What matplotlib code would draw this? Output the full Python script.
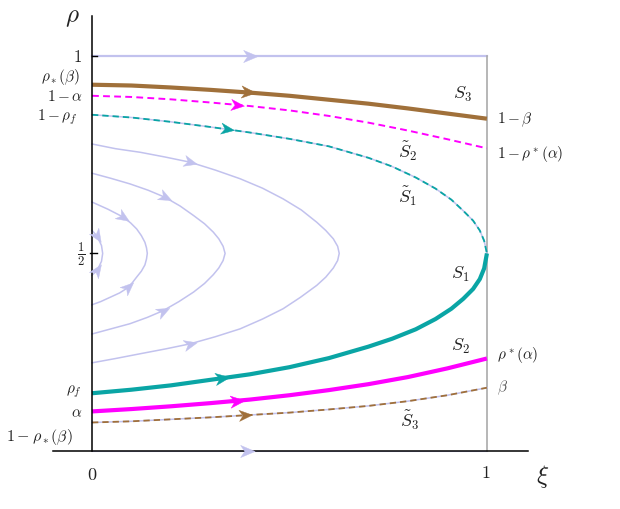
import numpy as np
import matplotlib
matplotlib.use('Agg')
import matplotlib.pyplot as plt
from matplotlib.path import Path
from matplotlib.markers import MarkerStyle
from matplotlib.transforms import Affine2D

plt.rcParams['mathtext.fontset'] = 'cm'

# curves (xi along the bottom, rho up the side)
line_xi = [0, 0.1, 0.2, 0.3, 0.4, 0.5, 0.6, 0.7, 0.8, 0.9, 1.0]
s3_rho = [0.927, 0.925, 0.920, 0.914, 0.907, 0.899, 0.889, 0.879, 0.867, 0.854, 0.841]
s2t_rho = [0.899, 0.896, 0.890, 0.882, 0.873, 0.862, 0.848, 0.831, 0.811, 0.789, 0.766]
s2_rho = [0.100, 0.106, 0.113, 0.121, 0.130, 0.141, 0.154, 0.169, 0.187, 0.209, 0.234]
s3t_rho = [0.072, 0.075, 0.080, 0.085, 0.091, 0.097, 0.105, 0.114, 0.126, 0.141, 0.160]

sep_xi = [0, 0.1, 0.2, 0.3, 0.4, 0.5, 0.6, 0.7, 0.76, 0.82, 0.87, 0.91, 0.94, 0.965, 0.982, 0.993, 1.0]
s1t_rho = [0.851, 0.844, 0.833, 0.820, 0.806, 0.790, 0.771, 0.742, 0.720, 0.692, 0.664,
           0.636, 0.608, 0.583, 0.558, 0.532, 0.5]
s1_rho = [0.146, 0.155, 0.166, 0.180, 0.194, 0.212, 0.235, 0.264, 0.284, 0.308, 0.334,
          0.360, 0.385, 0.410, 0.435, 0.462, 0.5]

# closed orbits around (0, 1/2): upper and lower branches
orb_a_up_xi = [0, 0.06, 0.122, 0.185, 0.248, 0.312, 0.375, 0.432, 0.484, 0.530, 0.569, 0.592, 0.611, 0.622, 0.626]
orb_a_up_rho = [0.777, 0.765, 0.756, 0.744, 0.731, 0.711, 0.689, 0.665, 0.638, 0.610, 0.579, 0.558, 0.537, 0.518, 0.5]
orb_a_lo_xi = [0.626, 0.622, 0.611, 0.592, 0.569, 0.528, 0.484, 0.432, 0.375, 0.312, 0.248, 0.185, 0.122, 0.06, 0]
orb_a_lo_rho = [0.5, 0.482, 0.463, 0.440, 0.419, 0.389, 0.360, 0.334, 0.309, 0.289, 0.271, 0.258, 0.246, 0.234, 0.223]

orb_b_up_xi = [0, 0.048, 0.096, 0.142, 0.185, 0.223, 0.257, 0.285, 0.307, 0.321, 0.332, 0.337]
orb_b_up_rho = [0.703, 0.690, 0.676, 0.660, 0.642, 0.620, 0.596, 0.575, 0.554, 0.537, 0.518, 0.5]
orb_b_lo_xi = [0.337, 0.332, 0.321, 0.307, 0.285, 0.257, 0.22, 0.18, 0.14, 0.096, 0.048, 0]
orb_b_lo_rho = [0.5, 0.482, 0.463, 0.446, 0.424, 0.402, 0.378, 0.355, 0.338, 0.322, 0.309, 0.296]

orb_c_up_xi = [0, 0.04, 0.079, 0.098, 0.113, 0.125, 0.134, 0.138, 0.14]
orb_c_up_rho = [0.63, 0.612, 0.592, 0.577, 0.562, 0.545, 0.528, 0.514, 0.5]
orb_c_lo_xi = [0.14, 0.138, 0.134, 0.125, 0.113, 0.103, 0.092, 0.07, 0.046, 0.022, 0]
orb_c_lo_rho = [0.5, 0.486, 0.471, 0.455, 0.44, 0.427, 0.414, 0.40, 0.389, 0.378, 0.37]

orb_d_up_xi = [0, 0.009, 0.016, 0.024, 0.027]
orb_d_up_rho = [0.558, 0.548, 0.537, 0.52, 0.5]
orb_d_lo_xi = [0.027, 0.024, 0.016, 0.008, 0]
orb_d_lo_rho = [0.5, 0.48, 0.463, 0.452, 0.445]

edge_xi = [0, 1.0]
top_rho = [1.0, 1.0]
bot_rho = [0.0, 0.0]

LAV = '#c2c2ee'
TEAL = '#0aa5a5'
MAG = '#ff00ff'
BROWN = '#a0703a'
TXT = '#222222'

arrow_path = Path([(1, 0), (-0.9, 0.8), (-0.35, 0), (-0.9, -0.8), (1, 0)],
                  [Path.MOVETO, Path.LINETO, Path.LINETO, Path.LINETO, Path.CLOSEPOLY])


def put_arrow(ax, xs, ys, at, color, size=9):
    xs = np.asarray(xs, float)
    ys = np.asarray(ys, float)
    o = np.argsort(xs)
    xs, ys = xs[o], ys[o]
    y = np.interp(at, xs, ys)
    d = 0.01
    dy = np.interp(at + d, xs, ys) - np.interp(at - d, xs, ys)
    ang = np.degrees(np.arctan2(dy, 2 * d))
    m = MarkerStyle(arrow_path, transform=Affine2D().rotate_deg(ang))
    ax.plot([at], [y], marker=m, ms=size, color=color, mec=color, mew=0.3,
            ls='none', zorder=8)


fig = plt.figure(figsize=(6.2, 5.1), dpi=100)
ax = fig.add_axes([0, 0, 1, 1])
ax.set_xlim(-0.233, 1.337)
ax.set_ylim(-0.147, 1.144)
ax.axis('off')

# closed orbits
orbits = [(orb_a_up_xi, orb_a_up_rho, orb_a_lo_xi, orb_a_lo_rho, 0.248, 0.248),
          (orb_b_up_xi, orb_b_up_rho, orb_b_lo_xi, orb_b_lo_rho, 0.185, 0.18),
          (orb_c_up_xi, orb_c_up_rho, orb_c_lo_xi, orb_c_lo_rho, 0.079, 0.092),
          (orb_d_up_xi, orb_d_up_rho, orb_d_lo_xi, orb_d_lo_rho, 0.012, 0.012)]
for ux, uy, lx, ly, au, al in orbits:
    ax.plot(ux + lx, uy + ly, color=LAV, lw=1.1, zorder=2)
    put_arrow(ax, ux, uy, au, LAV, 10)
    put_arrow(ax, lx, ly, al, LAV, 10)

# boundary lines
ax.plot(edge_xi, top_rho, color=LAV, lw=1.6, zorder=2)
put_arrow(ax, edge_xi, top_rho, 0.40, LAV, 11)
ax.plot(edge_xi, bot_rho, color=LAV, lw=0.8, zorder=2)
put_arrow(ax, edge_xi, bot_rho, 0.392, LAV, 11)
ax.plot([1, 1], [0, 1], color='#aaaaaa', lw=1.2, zorder=3)

# separatrices
ax.plot(sep_xi, s1t_rho, color=LAV, lw=1.1, zorder=3)
ax.plot(sep_xi, s1t_rho, color=TEAL, lw=1.3, ls=(0, (3.5, 2.2)), zorder=4)
put_arrow(ax, sep_xi, s1t_rho, 0.342, TEAL, 10)

ax.plot(sep_xi, s1_rho, color=TEAL, lw=3.0, zorder=5, solid_capstyle='butt')
put_arrow(ax, sep_xi, s1_rho, 0.329, TEAL, 11)

ax.plot(line_xi, s2t_rho, color=MAG, lw=1.4, ls=(0, (3.5, 2.2)), zorder=4)
put_arrow(ax, line_xi, s2t_rho, 0.367, MAG, 10)

ax.plot(line_xi, s2_rho, color=MAG, lw=3.0, zorder=5, solid_capstyle='butt')
put_arrow(ax, line_xi, s2_rho, 0.367, MAG, 11)

ax.plot(line_xi, s3_rho, color=BROWN, lw=3.0, zorder=5, solid_capstyle='butt')
put_arrow(ax, line_xi, s3_rho, 0.395, BROWN, 11)

ax.plot(line_xi, s3t_rho, color=LAV, lw=1.1, zorder=3)
ax.plot(line_xi, s3t_rho, color=BROWN, lw=1.3, ls=(0, (3.5, 2.2)), zorder=4)
put_arrow(ax, line_xi, s3t_rho, 0.387, BROWN, 10)

# axes
ax.plot([-0.1, 1.104], [0, 0], color='black', lw=1.1, zorder=7)
ax.plot([0, 0], [0, 1.1], color='black', lw=1.1, zorder=7)
ax.plot([0, 0.012], [1, 1], color='black', lw=1.0, zorder=7)
ax.plot([-0.006, 0.012], [0.5, 0.5], color='black', lw=1.0, zorder=7)

ax.text(-0.05, 1.10, r'$\rho$', fontsize=18, ha='center', va='center', color=TXT)
ax.text(1.142, -0.063, r'$\xi$', fontsize=18, ha='center', va='center', color=TXT)
ax.text(0, -0.058, r'$0$', fontsize=13, ha='center', va='center', color=TXT)
ax.text(0.997, -0.053, r'$1$', fontsize=13, ha='center', va='center', color=TXT)

# left side labels
ly = dict(ha='right', va='center', color=TXT)
ax.text(-0.025, 1.0, r'$1$', fontsize=12, **ly)
ax.text(-0.03, 0.949, r'$\rho_*(\beta)$', fontsize=11, **ly)
ax.text(-0.022, 0.899, r'$1-\alpha$', fontsize=11, **ly)
ax.text(-0.035, 0.848, r'$1-\rho_f$', fontsize=11, **ly)
ax.text(-0.016, 0.5, r'$\frac{1}{2}$', fontsize=13, **ly)
ax.text(-0.025, 0.152, r'$\rho_f$', fontsize=11, **ly)
ax.text(-0.025, 0.099, r'$\alpha$', fontsize=11, **ly)
ax.text(-0.048, 0.038, r'$1-\rho_*(\beta)$', fontsize=11.5, **ly)

# right side labels
ry = dict(ha='left', va='center', color=TXT)
ax.text(1.025, 0.841, r'$1-\beta$', fontsize=11, **ry)
ax.text(1.025, 0.754, r'$1-\rho^*(\alpha)$', fontsize=11, **ry)
ax.text(1.025, 0.246, r'$\rho^*(\alpha)$', fontsize=11, **ry)
ax.text(1.025, 0.162, r'$\beta$', fontsize=11, color='#555555', ha='left', va='center')

# curve names
cl = dict(ha='center', va='center', color=TXT, fontsize=13)
ax.text(0.937, 0.904, r'$S_3$', **cl)
ax.text(0.80, 0.760, r'$\tilde{S}_2$', **cl)
ax.text(0.80, 0.646, r'$\tilde{S}_1$', **cl)
ax.text(0.932, 0.448, r'$S_1$', **cl)
ax.text(0.932, 0.266, r'$S_2$', **cl)
ax.text(0.805, 0.08, r'$\tilde{S}_3$', **cl)

fig.savefig('out.png', dpi=100)
